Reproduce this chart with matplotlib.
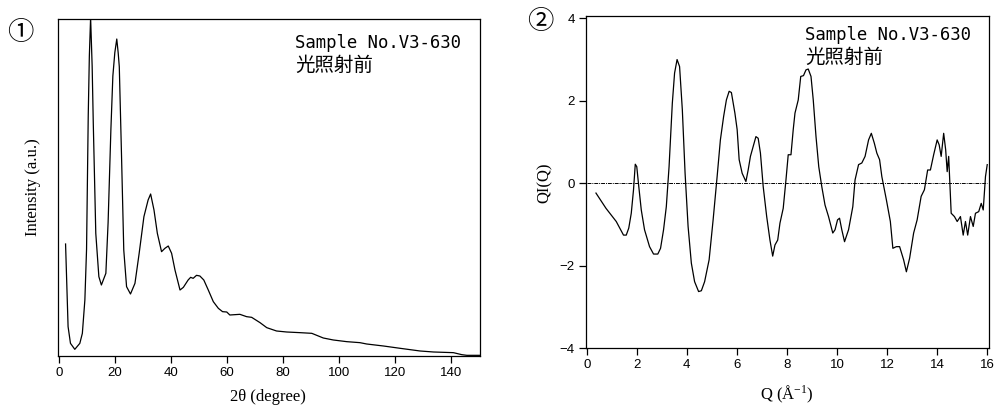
import matplotlib
matplotlib.use("Agg")
import matplotlib.pyplot as plt

plt.rcParams['mathtext.fontset'] = 'custom'
plt.rcParams['mathtext.rm'] = 'Liberation Serif'
plt.rcParams['mathtext.it'] = 'Liberation Serif:italic'

# panel 1: XRD pattern, 2theta (deg) vs intensity (a.u.)
two_theta = [2.3, 3.2, 4.05, 5.6, 7.4, 8.3, 9.2, 9.8, 10.4, 10.8, 11.25, 11.8, 12.2, 13.1,
             14.2, 15.1, 16.7, 17.5, 18.5, 19.2, 19.9, 20.6, 21.1, 21.5, 22.3, 23.1,
             24.1, 25.5, 27.1, 28.6, 30.3, 31.8, 32.7, 33.9, 35.1, 36.6, 37.8, 39.0,
             40.2, 41.4, 43.2, 44.4, 46.1, 47.0, 47.9, 49.1, 50.3, 51.7, 53.3, 55.1,
             56.9, 58.4, 59.9, 61.0, 64.6, 67.0, 68.8, 71.8, 74.2, 77.7, 81.3, 86.1,
             90.3, 94.4, 98.0, 102.8, 107.5, 109.9, 115.9, 121.9, 129.0, 133.8, 140.9,
             143.9, 145.7, 150.5]
intensity = [33.6, 8.8, 3.8, 2.0, 3.8, 6.8, 16.8, 32.0, 72.0, 90.0, 101.5, 87.0, 70.0,
             36.8, 23.8, 21.3, 24.8, 40.0, 68.0, 84.0, 91.0, 95.1, 91.0, 86.8, 60.0,
             31.8, 20.8, 18.6, 21.8, 30.8, 41.8, 46.8, 48.6, 43.8, 36.8, 31.3, 32.3,
             33.0, 30.8, 25.8, 19.8, 20.6, 22.8, 23.6, 23.3, 24.2, 24.0, 22.8, 19.8,
             16.3, 14.3, 13.3, 13.2, 12.3, 12.5, 11.8, 11.6, 10.0, 8.5, 7.5, 7.2, 7.0,
             6.8, 5.4, 4.8, 4.3, 4.0, 3.6, 3.0, 2.3, 1.5, 1.2, 1.0, 0.4, 0.2, 0.2]

# panel 2: structure function QI(Q)
q_vals = [0.37, 0.77, 1.18, 1.47, 1.58, 1.68, 1.78, 1.87, 1.94, 2.0, 2.08, 2.18, 2.31,
          2.51, 2.67, 2.84, 2.95, 3.07, 3.18, 3.29, 3.42, 3.51, 3.61, 3.71, 3.82,
          3.93, 4.05, 4.18, 4.31, 4.47, 4.58, 4.71, 4.89, 5.05, 5.21, 5.34, 5.47,
          5.58, 5.69, 5.78, 5.92, 6.01, 6.09, 6.21, 6.36, 6.45, 6.54, 6.65, 6.76,
          6.85, 6.94, 7.05, 7.19, 7.32, 7.43, 7.52, 7.63, 7.72, 7.85, 7.96, 8.05,
          8.16, 8.25, 8.32, 8.45, 8.55, 8.66, 8.76, 8.85, 8.96, 9.05, 9.16, 9.27,
          9.39, 9.52, 9.66, 9.83, 9.92, 10.02, 10.1, 10.19, 10.3, 10.46, 10.63, 10.72,
          10.86, 10.99, 11.12, 11.26, 11.37, 11.49, 11.59, 11.70, 11.79, 11.97, 12.13,
          12.23, 12.37, 12.50, 12.66, 12.77, 12.90, 13.06, 13.20, 13.36, 13.49, 13.62,
          13.73, 13.86, 14.0, 14.08, 14.16, 14.26, 14.34, 14.40, 14.46, 14.56, 14.69,
          14.80, 14.93, 15.04, 15.13, 15.22, 15.33, 15.44, 15.53, 15.66, 15.76, 15.84,
          15.93, 16.0]
qi_vals = [-0.24, -0.61, -0.93, -1.26, -1.26, -1.09, -0.73, -0.16, 0.46, 0.40, -0.08,
           -0.65, -1.13, -1.54, -1.72, -1.72, -1.58, -1.13, -0.57, 0.40, 1.94, 2.67,
           3.0, 2.83, 1.78, 0.24, -1.05, -1.94, -2.39, -2.63, -2.61, -2.39, -1.86,
           -0.89, 0.16, 1.05, 1.62, 2.02, 2.23, 2.20, 1.70, 1.30, 0.57, 0.24, 0.04,
           0.32, 0.65, 0.89, 1.13, 1.09, 0.73, -0.08, -0.81, -1.38, -1.77, -1.50,
           -1.38, -0.97, -0.61, 0.08, 0.69, 0.69, 1.30, 1.70, 2.02, 2.59, 2.61, 2.75,
           2.77, 2.59, 2.02, 1.13, 0.40, -0.08, -0.53, -0.81, -1.21, -1.13, -0.89,
           -0.85, -1.13, -1.42, -1.13, -0.57, 0.08, 0.45, 0.49, 0.65, 1.05, 1.21, 0.97,
           0.73, 0.57, 0.16, -0.40, -0.93, -1.58, -1.54, -1.54, -1.86, -2.15, -1.82,
           -1.21, -0.89, -0.32, -0.16, 0.32, 0.32, 0.69, 1.05, 0.93, 0.65, 1.21, 0.81,
           0.28, 0.65, -0.73, -0.81, -0.93, -0.81, -1.26, -0.93, -1.26, -0.81, -1.05,
           -0.73, -0.69, -0.49, -0.65, 0.16, 0.45]

xrd_ticks = [0, 20, 40, 60, 80, 100, 120, 140]
q_ticks = [0, 2, 4, 6, 8, 10, 12, 14, 16]
qi_ticks = [-4, -2, 0, 2, 4]

sample_label = "Sample No.V3-630"
condition_label = "光照射前"

tick_font = dict(family=['Liberation Sans Narrow', 'Liberation Sans'], size=9.5)
serif = ['Liberation Serif', 'Noto Sans CJK JP', 'DejaVu Sans']

fig = plt.figure(figsize=(9.95, 4.09), dpi=100)

ax1 = fig.add_axes([0.0583, 0.1296, 0.4241, 0.8239])
ax1.plot(two_theta, intensity, color='black', lw=0.9)
ax1.set_xlim(-0.4, 150.4)
ax1.set_ylim(0, 101.1)
ax1.set_yticks([])
ax1.set_xticks(xrd_ticks)

ax2 = fig.add_axes([0.5889, 0.1491, 0.4048, 0.8117])
ax2.plot(q_vals, qi_vals, color='black', lw=0.9)
ax2.plot([0, 16], [0, 0], color='black', lw=0.7, linestyle=(0, (4, 1, 1, 1)))
ax2.set_xlim(-0.03, 16.06)
ax2.set_ylim(-4, 4.056)
ax2.set_xticks(q_ticks)
ax2.set_yticks(qi_ticks)

for ax in (ax1, ax2):
    for sp in ax.spines.values():
        sp.set_linewidth(0.9)
    ax.tick_params(direction='out', length=5, width=0.9, pad=3)
    for lab in ax.get_xticklabels() + ax.get_yticklabels():
        lab.set_fontfamily(tick_font['family'])
        lab.set_fontsize(tick_font['size'])

# labels
fig.text(33 / 995, 1 - 187 / 409, "Intensity (a.u.)", rotation=90, ha='center', va='center',
         family=serif, fontsize=12)
fig.text(268 / 995, 1 - 397 / 409, "2θ (degree)", ha='center', va='center',
         family=serif, fontsize=12)
fig.text(545 / 995, 1 - 183 / 409, "QI(Q)", rotation=90, ha='center', va='center',
         family=serif, fontsize=12)
fig.text(787 / 995, 1 - 394 / 409, "Q (Å$^{-1}$)", ha='center', va='center',
         family=serif, fontsize=12)

# panel numbers
fig.text(20 / 995, 1 - 33 / 409, "①", ha='center', va='center', family=serif, fontsize=19)
fig.text(540 / 995, 1 - 22 / 409, "②", ha='center', va='center', family=serif, fontsize=19)

# sample annotations
for x0, y0 in [(295, 43), (805, 35)]:
    fig.text(x0 / 995, 1 - y0 / 409, sample_label, ha='left', va='center',
             family=['DejaVu Sans Mono'], fontsize=12.4)
    fig.text(x0 / 995, 1 - (y0 + 22) / 409, condition_label, ha='left', va='center',
             family=['Noto Sans CJK JP'], fontsize=14)

fig.savefig("out.png", dpi=100)
